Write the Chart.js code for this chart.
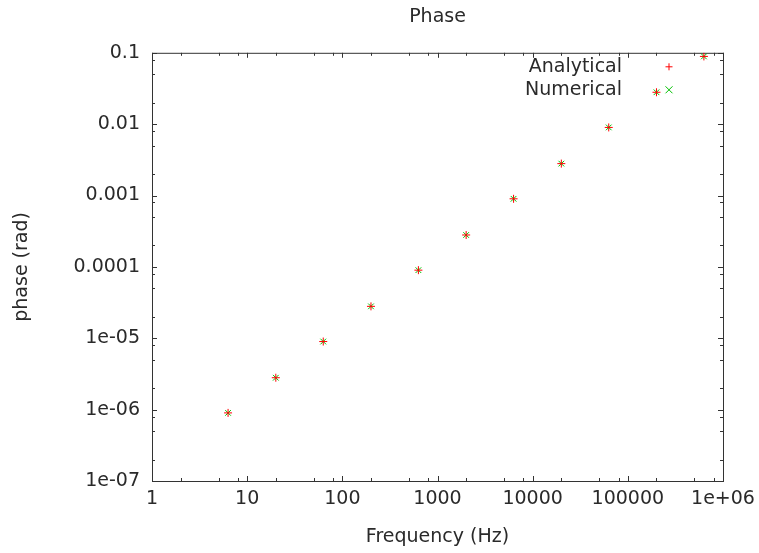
<!DOCTYPE html>
<html>
<head>
<meta charset="utf-8">
<script src="https://cdn.jsdelivr.net/npm/chart.js@4"></script>
<style>
  html, body { margin: 0; padding: 0; background: #fff; }
  #wrap { width: 759px; height: 553px; }
</style>
</head>
<body>
<div id="wrap"><canvas id="phaseChart" width="759" height="553"></canvas></div>
<script>
const frequency = [6.3, 20, 63, 200, 630, 2000, 6300, 20000, 63000, 200000, 630000];
const analytical = [9e-7, 2.8e-6, 9e-6, 2.8e-5, 9e-5, 2.8e-4, 9e-4, 2.8e-3, 9e-3, 2.8e-2, 8.9e-2];
const numerical = [9e-7, 2.8e-6, 9e-6, 2.8e-5, 9e-5, 2.8e-4, 9e-4, 2.8e-3, 9e-3, 2.8e-2, 8.9e-2];
const xTickValues = [1, 10, 100, 1000, 10000, 100000, 1000000];
const xTickLabels = ["1", "10", "100", "1000", "10000", "100000", "1e+06"];
const yTickValues = [1e-7, 1e-6, 1e-5, 1e-4, 1e-3, 1e-2, 1e-1];
const yTickLabels = ["1e-07", "1e-06", "1e-05", "0.0001", "0.001", "0.01", "0.1"];
const minorSteps = [2, 5, 8];

const fontFamily = "'DejaVu Sans', sans-serif";
const textColor = "#2a2a2a";

// gnuplot-ish frame: box with inward ticks on all four sides + key in the corner
const gnuplotFrame = {
  id: "gnuplotFrame",
  beforeDatasetsDraw(chart) {
    const { ctx, chartArea: a, scales } = chart;
    const xs = scales.x, ys = scales.y;
    ctx.save();
    ctx.strokeStyle = "#333";
    ctx.lineWidth = 1;
    ctx.strokeRect(a.left + 0.5, a.top + 0.5, a.right - a.left, a.bottom - a.top);
    ctx.beginPath();
    xTickValues.forEach((v) => {
      const px = Math.round(xs.getPixelForValue(v)) + 0.5;
      ctx.moveTo(px, a.bottom); ctx.lineTo(px, a.bottom - 5);
      ctx.moveTo(px, a.top); ctx.lineTo(px, a.top + 5);
      if (v < 1000000) minorSteps.forEach((m) => {
        const mx = Math.round(xs.getPixelForValue(v * m)) + 0.5;
        ctx.moveTo(mx, a.bottom); ctx.lineTo(mx, a.bottom - 3);
        ctx.moveTo(mx, a.top); ctx.lineTo(mx, a.top + 3);
      });
    });
    yTickValues.forEach((v) => {
      const py = Math.round(ys.getPixelForValue(v)) + 0.5;
      ctx.moveTo(a.left, py); ctx.lineTo(a.left + 5, py);
      ctx.moveTo(a.right, py); ctx.lineTo(a.right - 5, py);
      if (v < 0.1) minorSteps.forEach((m) => {
        const my = Math.round(ys.getPixelForValue(v * m)) + 0.5;
        ctx.moveTo(a.left, my); ctx.lineTo(a.left + 3, my);
        ctx.moveTo(a.right, my); ctx.lineTo(a.right - 3, my);
      });
    });
    ctx.stroke();
    ctx.restore();
  },
  afterDraw(chart) {
    const { ctx, chartArea: a } = chart;
    ctx.save();
    ctx.font = "19px " + fontFamily;
    ctx.fillStyle = textColor;
    ctx.textAlign = "right";
    ctx.textBaseline = "middle";
    chart.data.datasets.forEach((ds, i) => {
      const y = a.top + 14 + i * 23;
      ctx.fillText(ds.label, a.right - 101, y);
      const x = a.right - 54;
      const r = 3.5;
      ctx.strokeStyle = ds.borderColor;
      ctx.lineWidth = 1;
      ctx.beginPath();
      if (ds.pointStyle === "cross") {
        ctx.moveTo(x - r, y); ctx.lineTo(x + r, y);
        ctx.moveTo(x, y - r); ctx.lineTo(x, y + r);
      } else {
        ctx.moveTo(x - r, y - r); ctx.lineTo(x + r, y + r);
        ctx.moveTo(x - r, y + r); ctx.lineTo(x + r, y - r);
      }
      ctx.stroke();
    });
    ctx.restore();
  }
};

new Chart(document.getElementById("phaseChart"), {
  type: "scatter",
  data: {
    datasets: [
      {
        label: "Analytical",
        data: frequency.map((f, i) => ({ x: f, y: analytical[i] })),
        pointStyle: "cross",
        pointRadius: 4,
        borderColor: "#ff0000",
        backgroundColor: "#ff0000",
        borderWidth: 1,
      },
      {
        label: "Numerical",
        data: frequency.map((f, i) => ({ x: f, y: numerical[i] })),
        pointStyle: "crossRot",
        pointRadius: 4,
        borderColor: "#00c000",
        backgroundColor: "#00c000",
        borderWidth: 1,
      },
    ],
  },
  options: {
    responsive: false,
    animation: false,
    layout: { padding: { top: 0, right: 36, bottom: 0, left: 0 } },
    scales: {
      x: {
        type: "logarithmic",
        min: 1,
        max: 1000000,
        afterBuildTicks: (s) => { s.ticks = xTickValues.map((v) => ({ value: v })); },
        afterFit: (s) => { s.height = 72; s.paddingLeft = 0; s.paddingRight = 0; },
        grid: { display: false, drawTicks: false },
        border: { display: false },
        ticks: {
          autoSkip: false,
          maxRotation: 0,
          padding: 7,
          color: textColor,
          font: { family: fontFamily, size: 19 },
          callback: (v, i) => xTickLabels[i],
        },
        title: {
          display: true,
          text: "Frequency (Hz)",
          color: textColor,
          font: { family: fontFamily, size: 19 },
          padding: { top: 0, bottom: 5 },
        },
      },
      y: {
        type: "logarithmic",
        min: 1e-7,
        max: 0.1,
        afterBuildTicks: (s) => { s.ticks = yTickValues.map((v) => ({ value: v })); },
        afterFit: (s) => { s.width = 152; s.paddingTop = 0; s.paddingBottom = 0; },
        grid: { display: false, drawTicks: false },
        border: { display: false },
        ticks: {
          autoSkip: false,
          padding: 12,
          color: textColor,
          font: { family: fontFamily, size: 19 },
          callback: (v, i) => yTickLabels[i],
        },
        title: {
          display: true,
          text: "phase (rad)",
          color: textColor,
          font: { family: fontFamily, size: 19 },
          padding: { top: 11, bottom: 0 },
        },
      },
    },
    plugins: {
      legend: { display: false },
      tooltip: { enabled: false },
      title: {
        display: true,
        text: "Phase",
        fullSize: false,
        color: textColor,
        font: { family: fontFamily, size: 19, weight: "normal" },
        padding: { top: 6, bottom: 24 },
      },
    },
  },
  plugins: [gnuplotFrame],
});
</script>
</body>
</html>
